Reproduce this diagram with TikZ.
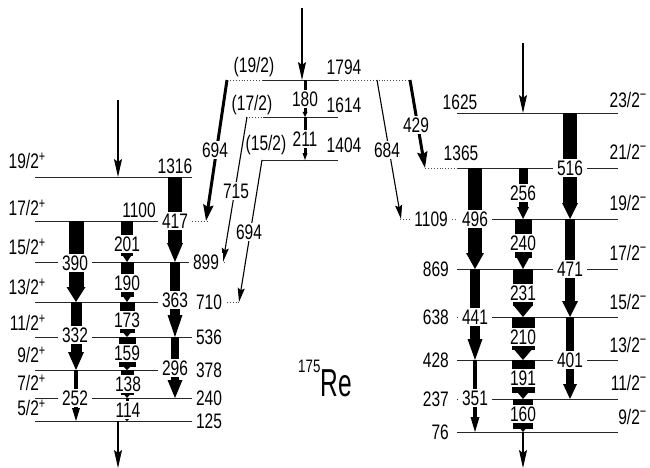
\documentclass[tikz,border=0pt]{standalone}
\usepackage{fontspec}
\setmainfont{Liberation Sans}[FakeStretch=0.74]
\usetikzlibrary{arrows.meta}

% gamma transition: x, from level, to level, bar width, head width, head length
\newcommand{\gbar}[6]{%
  \fill (#1-#4/2,#2) rectangle (#1+#4/2,#3-#6);
  \fill (#1-#5/2,#3-#6) -- (#1+#5/2,#3-#6) -- (#1,#3) -- cycle;}

\begin{document}
\begin{tikzpicture}[x=1pt, y=-1pt,
  lev/.style={line width=0.9pt, black!85},
  ext/.style={line width=0.9pt, dotted, black!70},
  en/.style={font=\fontsize{21}{21}\selectfont, inner sep=1pt},
  gl/.style={en, fill=white, inner xsep=4pt, inner ysep=1.5pt},
  feed/.style={line width=1.1pt, -{Stealth[length=18pt,width=8pt,inset=3pt]}},
  link/.style={line width=1.1pt, -{Stealth[length=14pt,width=7pt,inset=2pt]}},
  linkthick/.style={line width=3pt, -{Stealth[length=16pt,width=10pt,inset=2pt]}}]
\useasboundingbox (0,0) rectangle (650,468);

% positive parity band
\draw[lev] (35,177) -- (192,177);
\draw[lev] (35,221) -- (192,221);
\draw[lev] (35,262) -- (192,262);
\draw[lev] (35,302) -- (192,302);
\draw[lev] (35,337) -- (192,337);
\draw[lev] (35,370) -- (192,370);
\draw[lev] (35,398) -- (192,398);
\draw[lev] (35,421) -- (192,421);
\draw[ext] (192,221) -- (207,221);
\draw[ext] (192,262) -- (224,262);
\draw[ext] (192,302) -- (239,302);

% upper levels
\draw[lev] (263,80) -- (338,80);
\draw[lev] (263,117) -- (338,117);
\draw[lev] (262,160) -- (338,160);
\draw[ext] (227,80) -- (263,80);
\draw[ext] (338,80) -- (410,80);
\draw[ext] (246,117) -- (263,117);

% negative parity band
\draw[lev] (457,113) -- (618,113);
\draw[lev] (457,168) -- (618,168);
\draw[lev] (460,219) -- (618,219);
\draw[lev] (457,269) -- (618,269);
\draw[lev] (457,317) -- (618,317);
\draw[lev] (457,360) -- (618,360);
\draw[lev] (457,399) -- (618,399);
\draw[lev] (457,432) -- (618,432);
\draw[ext] (425,168) -- (457,168);
\draw[ext] (400,219) -- (460,219);

% transitions, positive parity
\gbar{76}{221}{302}{15}{19}{15}
\gbar{76}{302}{370}{11}{16}{18}
\gbar{76}{370}{421}{4}{8}{13}
\gbar{127}{221}{262}{12}{8}{6}
\gbar{127}{262}{302}{13}{7}{5}
\gbar{127}{302}{337}{15}{7}{4}
\gbar{127}{337}{370}{17}{6}{3}
\gbar{127}{370}{398}{13}{5}{3}
\gbar{127}{398}{421}{3}{4}{2}
\gbar{175}{177}{262}{14}{16}{19}
\gbar{175}{262}{337}{10}{15}{22}
\gbar{175}{337}{398}{8}{15}{18}
\gbar{305}{80}{117}{3}{5}{5}
\gbar{305}{117}{160}{3}{5}{7}

% transitions, negative parity
\gbar{475}{168}{269}{14}{18}{16}
\gbar{475}{269}{360}{10}{15}{21}
\gbar{475}{360}{432}{4}{9}{15}
\gbar{523}{168}{219}{9}{12}{12}
\gbar{523}{219}{269}{17}{12}{11}
\gbar{523}{269}{317}{20}{18}{11}
\gbar{523}{317}{360}{23}{17}{10}
\gbar{523}{360}{399}{23}{10}{6}
\gbar{523}{399}{432}{20}{5}{3}
\gbar{570}{113}{219}{14}{16}{16}
\gbar{570}{219}{317}{10}{16}{16}
\gbar{570}{317}{399}{8}{14}{15}

% linking transitions
\coordinate (top694a) at (227,80);   \coordinate (bot694a) at (206,221);
\coordinate (top715) at (247,117);   \coordinate (bot715) at (223,262);
\coordinate (top694b) at (262,160);  \coordinate (bot694b) at (239,302);
\coordinate (top684) at (377,80);    \coordinate (bot684) at (401,219);
\coordinate (top429) at (410,80);    \coordinate (bot429) at (425,168);
\draw[linkthick] (top694a) -- (bot694a);
\draw[link] (top715) -- (bot715);
\draw[link] (top694b) -- (bot694b);
\draw[link] (top684) -- (bot684);
\draw[linkthick] (top429) -- (bot429);

% feeding and outgoing
\coordinate (inA) at (118,100);  \coordinate (lv1316) at (118,177);
\coordinate (inB) at (302,8);    \coordinate (lv1794) at (302,80);
\coordinate (inC) at (523,43);   \coordinate (lv1625) at (523,113);
\coordinate (lv125) at (118,421); \coordinate (outA) at (118,468);
\coordinate (lv76) at (523,432);  \coordinate (outC) at (523,468);
\draw[feed] (inA) -- (lv1316);
\draw[feed] (inB) -- (lv1794);
\draw[feed] (inC) -- (lv1625);
\draw[feed] (lv125) -- (outA);
\draw[feed] (lv76) -- (outC);

% gamma energies
\node[gl] (g390) at (75,263) {390};
\node[gl] (g332) at (75,335) {332};
\node[gl] (g252) at (75,398) {252};
\node[gl] (g201) at (127,244) {201};
\node[gl] (g190) at (127,283) {190};
\node[gl] (g173) at (127,320) {173};
\node[gl] (g159) at (127,353) {159};
\node[gl] (g138) at (128,384) {138};
\node[gl] (g114) at (128,410) {114};
\node[gl] (g417) at (175,221) {417};
\node[gl] (g363) at (175,300) {363};
\node[gl] (g296) at (175,368) {296};
\node[gl] (g180) at (305,99) {180};
\node[gl] (g211) at (305,139) {211};
\node[gl] (g694a) at (215,150) {694};
\node[gl] (g715) at (236,191) {715};
\node[gl] (g694b) at (249,232) {694};
\node[gl] (g684) at (387,150) {684};
\node[gl] (g429) at (416,125) {429};
\node[gl] (g496) at (475,219) {496};
\node[gl] (g441) at (475,317) {441};
\node[gl] (g351) at (475,398) {351};
\node[gl] (g256) at (523,193) {256};
\node[gl] (g240) at (523,243) {240};
\node[gl] (g231) at (523,293) {231};
\node[gl] (g210) at (523,337) {210};
\node[gl] (g191) at (523,378) {191};
\node[gl] (g160) at (523,414) {160};
\node[gl] (g516) at (570,168) {516};
\node[gl] (g471) at (570,269) {471};
\node[gl] (g401) at (570,360) {401};

% level energies
\node[en] (e1316) at (175,166) {1316};
\node[en] (e1100) at (139,210) {1100};
\node[gl] (e899) at (206,262) {899};
\node[gl] (e710) at (209,302) {710};
\node[en] (e536) at (209,337) {536};
\node[en] (e378) at (209,370) {378};
\node[en] (e240) at (209,398) {240};
\node[en] (e125) at (209,421) {125};
\node[en] (e1794) at (344,67) {1794};
\node[en] (e1614) at (344,105) {1614};
\node[en] (e1404) at (344,145) {1404};
\node[en] (e1625) at (460,102) {1625};
\node[en] (e1365) at (461,153) {1365};
\node[gl, anchor=east] (e1109) at (452,219) {1109};
\node[en, anchor=east] (e869) at (450,269) {869};
\node[en, anchor=east] (e638) at (450,317) {638};
\node[en, anchor=east] (e428) at (450,360) {428};
\node[en, anchor=east] (e237) at (450,399) {237};
\node[en, anchor=east] (e76) at (450,432) {76};

% spins
\node[en, anchor=east] (s19p) at (47,161) {19/2\textsuperscript{+}};
\node[en, anchor=east] (s17p) at (47,208) {17/2\textsuperscript{+}};
\node[en, anchor=east] (s15p) at (47,247) {15/2\textsuperscript{+}};
\node[en, anchor=east] (s13p) at (47,287) {13/2\textsuperscript{+}};
\node[en, anchor=east] (s11p) at (47,323) {11/2\textsuperscript{+}};
\node[en, anchor=east] (s9p) at (47,355) {9/2\textsuperscript{+}};
\node[en, anchor=east] (s7p) at (47,383) {7/2\textsuperscript{+}};
\node[en, anchor=east] (s5p) at (47,408) {5/2\textsuperscript{+}};
\node[en] (s19) at (254,67) {(19/2)};
\node[en] (s17) at (252,105) {(17/2)};
\node[en] (s15) at (266,145) {(15/2)};
\node[en, anchor=east] (s23m) at (648,100) {23/2\textsuperscript{−}};
\node[en, anchor=east] (s21m) at (648,152) {21/2\textsuperscript{−}};
\node[en, anchor=east] (s19m) at (648,203) {19/2\textsuperscript{−}};
\node[en, anchor=east] (s17m) at (648,253) {17/2\textsuperscript{−}};
\node[en, anchor=east] (s15m) at (648,302) {15/2\textsuperscript{−}};
\node[en, anchor=east] (s13m) at (648,345) {13/2\textsuperscript{−}};
\node[en, anchor=east] (s11m) at (648,383) {11/2\textsuperscript{−}};
\node[en, anchor=east] (s9m) at (648,417) {9/2\textsuperscript{−}};

\node[inner sep=0pt] (nucl) at (325,378) {{\fontsize{18}{18}\selectfont\raisebox{24pt}{175}}{\fontsize{39}{39}\selectfont\scalebox{0.85}[1]{Re}}};
\end{tikzpicture}
\end{document}
